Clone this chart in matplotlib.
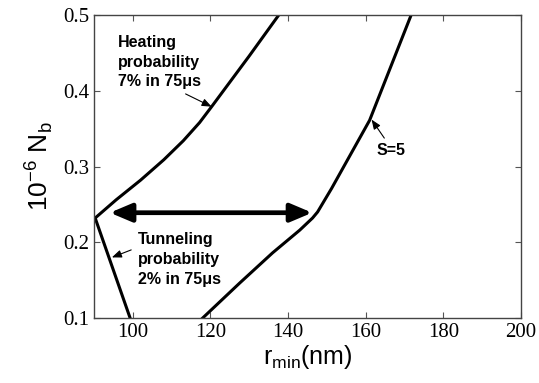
import matplotlib
matplotlib.use("Agg")
import matplotlib.pyplot as plt

# curves (r_min in nm, 1e-6 N_b)
heat_r = [90.3, 95.7, 102.0, 108.0, 113.0, 117.2, 120.3, 130.0, 137.6]
heat_n = [0.232, 0.256, 0.282, 0.309, 0.334, 0.358, 0.379, 0.446, 0.500]

tunnel_r = [90.3, 99.3]
tunnel_n = [0.232, 0.100]

s5_r = [118.0, 127.5, 136.0, 143.0, 146.3, 147.6, 151.2, 161.0, 171.7]
s5_n = [0.100, 0.146, 0.186, 0.216, 0.232, 0.240, 0.271, 0.361, 0.500]

xticks = [100, 120, 140, 160, 180, 200]
yticks = [0.1, 0.2, 0.3, 0.4, 0.5]

fig = plt.figure(figsize=(5.39, 3.83), dpi=100)
ax = fig.add_axes([0.1744, 0.1697, 0.7922, 0.7911])

ax.plot(heat_r, heat_n, color="black", lw=2.2)
ax.plot(tunnel_r, tunnel_n, color="black", lw=2.2)
ax.plot(s5_r, s5_n, color="black", lw=2.2)

# double arrow between the boundaries
ax.annotate("", xy=(94.1, 0.239), xytext=(146.2, 0.239),
            arrowprops=dict(arrowstyle="<|-|>,head_length=1.3,head_width=0.55",
                            color="black", lw=3.4, shrinkA=0, shrinkB=0))

bold = dict(fontfamily="Liberation Sans", fontweight="bold", fontsize=11.5)
thin = dict(arrowstyle="-|>,head_length=0.5,head_width=0.2", color="black", lw=0.8)

ax.annotate("Heating\nprobability\n7% in 75\u03bcs", xy=(120.3, 0.379),
            xytext=(96.2, 0.474), ha="left", va="top", linespacing=1.4,
            arrowprops=dict(**thin, shrinkA=3, shrinkB=0, relpos=(0.7, 0.0)), **bold)
ax.annotate("S=5", xy=(161.5, 0.362), xytext=(162.7, 0.311),
            ha="left", va="bottom",
            arrowprops=dict(**thin, shrinkA=2, shrinkB=0, relpos=(0.4, 1.0)), **bold)
ax.annotate("Tunneling\nprobability\n2% in 75\u03bcs", xy=(94.6, 0.180),
            xytext=(101.3, 0.2135), ha="left", va="top", linespacing=1.4,
            arrowprops=dict(**thin, shrinkA=3, shrinkB=0, relpos=(0.0, 0.72)), **bold)

ax.set_xlim(90, 200)
ax.set_ylim(0.1, 0.5)
ax.set_xticks(xticks)
ax.set_yticks(yticks)
ax.set_xticklabels([str(t) for t in xticks], fontfamily="Liberation Serif", fontsize=15)
ax.set_yticklabels([f"{t:.1f}" for t in yticks], fontfamily="Liberation Serif", fontsize=15)
ax.tick_params(direction="in", top=True, right=True, length=4, width=0.8, color="#555555")
for sp in ax.spines.values():
    sp.set_color("#444444")
    sp.set_linewidth(1.0)

ax.set_xlabel(r"r$_{\mathregular{min}}$(nm)", fontfamily="Liberation Sans", fontsize=18, labelpad=1)
ax.set_ylabel(r"10$^{\mathregular{-6}}$ N$_{\mathregular{b}}$", fontfamily="Liberation Sans",
              fontsize=19, labelpad=6)

fig.savefig("out.png", dpi=100)
